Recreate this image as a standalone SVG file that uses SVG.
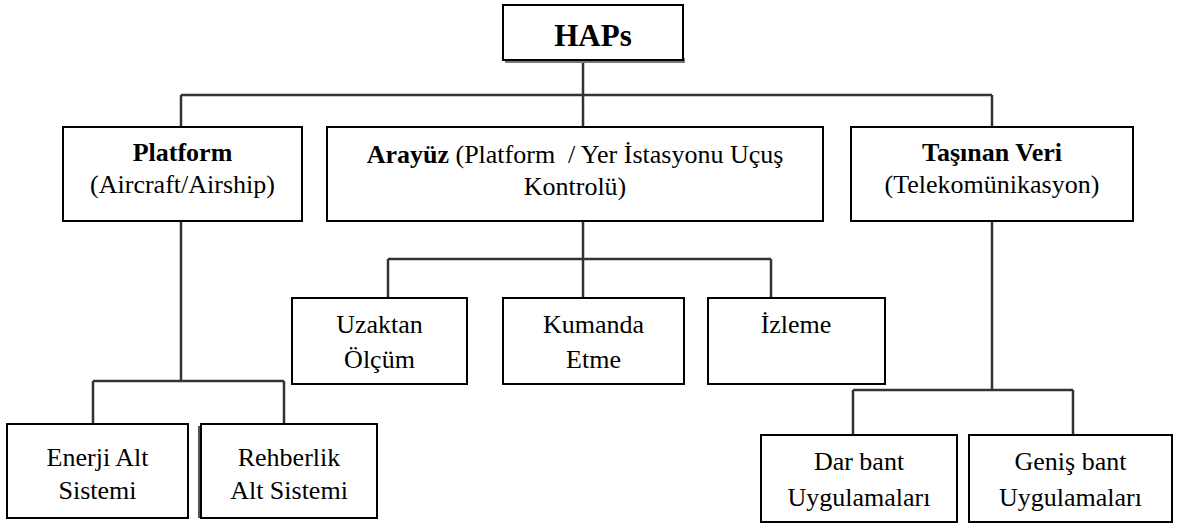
<svg xmlns="http://www.w3.org/2000/svg" width="1188" height="527" viewBox="0 0 1188 527">
<style>
.box{fill:#fff;stroke:#000;stroke-width:2}
.t{font-family:'Liberation Serif','Times New Roman',Tinos,'Nimbus Roman','DejaVu Serif',serif;font-size:26px;fill:#000;text-anchor:middle}
.b{font-weight:bold}
.c{fill:none;stroke:#333;stroke-width:2.5}
</style>
<rect width="1188" height="527" fill="#fff"/>
<g id="connectors">
<path class="c" d="M583 62V127M181 95H992M181 95V127M992 95V127"/>
<path class="c" d="M181 221V381M93 381H284M93 381V424M284 381V424"/>
<path class="c" d="M583 221V259M388 259H771M388 259V298M583 259V298M771 259V298"/>
<path class="c" d="M992 221V390M853 390H1073M853 390V435M1073 390V435"/>
</g>
<g id="haps">
<rect x="505" y="58" width="180" height="5" fill="#777"/>
<rect class="box" x="503" y="5" width="180" height="55"/>
<text class="t b" x="593" y="46" style="font-size:31px">HAPs</text>
</g>
<g id="platform">
<rect class="box" x="63" y="127" width="239" height="94"/>
<text class="t b" x="182.5" y="161">Platform</text>
<text class="t" x="182.5" y="193">(Aircraft/Airship)</text>
</g>
<g id="arayuz">
<rect class="box" x="327" y="127" width="496" height="94"/>
<text class="t" x="575" y="163"><tspan class="b">Arayüz</tspan> (Platform&#160; / Yer İstasyonu Uçuş</text>
<text class="t" x="575" y="195">Kontrolü)</text>
</g>
<g id="tasinan">
<rect class="box" x="851" y="127" width="282" height="94"/>
<text class="t b" x="992" y="161">Taşınan Veri</text>
<text class="t" x="992" y="193">(Telekomünikasyon)</text>
</g>
<g id="uzaktan">
<rect class="box" x="292" y="298" width="175" height="86"/>
<text class="t" x="379.5" y="333">Uzaktan</text>
<text class="t" x="379.5" y="368">Ölçüm</text>
</g>
<g id="kumanda">
<rect class="box" x="503" y="298" width="181" height="86"/>
<text class="t" x="593.5" y="333">Kumanda</text>
<text class="t" x="593.5" y="368">Etme</text>
</g>
<g id="izleme">
<rect class="box" x="708" y="298" width="177" height="86"/>
<text class="t" x="796" y="333">İzleme</text>
</g>
<g id="enerji">
<rect class="box" x="7" y="424" width="181" height="94"/>
<text class="t" x="97.5" y="466">Enerji Alt</text>
<text class="t" x="97.5" y="499">Sistemi</text>
</g>
<g id="rehberlik">
<rect x="198" y="426" width="4" height="92" fill="#555"/>
<rect class="box" x="201" y="424" width="176" height="94"/>
<text class="t" x="289" y="466">Rehberlik</text>
<text class="t" x="289" y="499">Alt Sistemi</text>
</g>
<g id="dar">
<rect class="box" x="761" y="435" width="196" height="87"/>
<text class="t" x="859" y="470">Dar bant</text>
<text class="t" x="859" y="506">Uygulamaları</text>
</g>
<g id="genis">
<rect class="box" x="969" y="435" width="203" height="87"/>
<text class="t" x="1070.5" y="470">Geniş bant</text>
<text class="t" x="1070.5" y="506">Uygulamaları</text>
</g>
</svg>
